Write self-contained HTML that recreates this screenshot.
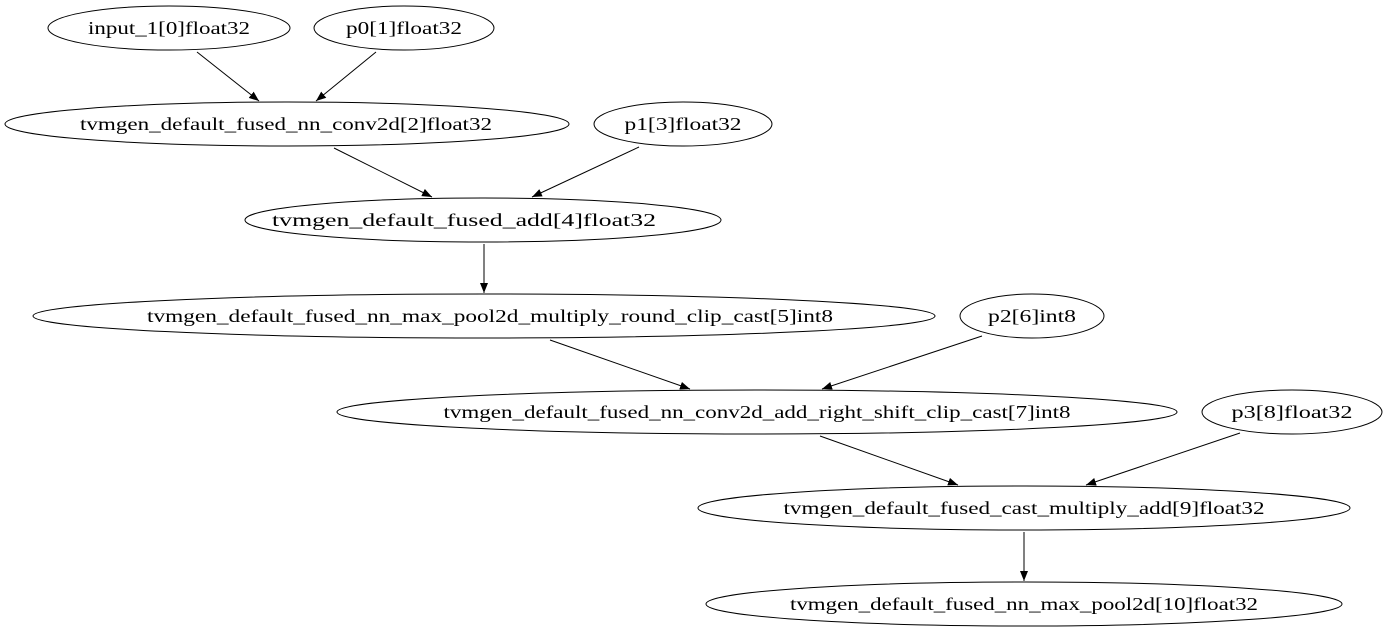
<!DOCTYPE html>
<html><head><meta charset="utf-8"><style>html,body{margin:0;padding:0;background:#fff}svg{display:block}</style></head>
<body>
<svg width="1388" height="635" viewBox="0 0 1388 635" xmlns="http://www.w3.org/2000/svg">
<defs><marker id="a" markerWidth="10" markerHeight="8" refX="10" refY="4" orient="auto" markerUnits="userSpaceOnUse"><path d="M0,0 L10,4 L0,8 z" fill="#000"/></marker></defs>
<g fill="none" stroke="#000" stroke-width="1">
<ellipse cx="169" cy="28" rx="121" ry="22"/>
<ellipse cx="404" cy="28" rx="90" ry="22"/>
<ellipse cx="287" cy="124" rx="282" ry="22"/>
<ellipse cx="683" cy="124" rx="89" ry="22"/>
<ellipse cx="483" cy="220" rx="238" ry="22"/>
<ellipse cx="484" cy="316" rx="451" ry="22"/>
<ellipse cx="1032" cy="316" rx="72" ry="22"/>
<ellipse cx="757" cy="412" rx="420" ry="22"/>
<ellipse cx="1292" cy="412" rx="90" ry="22"/>
<ellipse cx="1024" cy="508" rx="326" ry="22"/>
<ellipse cx="1024" cy="604" rx="318" ry="22"/>
<g marker-end="url(#a)">
<line x1="197" y1="52" x2="259" y2="101"/>
<line x1="376" y1="52" x2="316" y2="101"/>
<line x1="334" y1="148" x2="432" y2="197"/>
<line x1="639" y1="147" x2="532" y2="197"/>
<line x1="484" y1="244" x2="484" y2="293"/>
<line x1="550" y1="340" x2="690" y2="389"/>
<line x1="982" y1="336" x2="822" y2="389"/>
<line x1="820" y1="436" x2="958" y2="485"/>
<line x1="1240" y1="433" x2="1086" y2="485"/>
<line x1="1024" y1="532" x2="1024" y2="581"/>
</g></g>
<g font-family="'Liberation Serif',serif" font-size="18" text-anchor="middle" fill="#000">
<text x="169" y="34" textLength="162" lengthAdjust="spacingAndGlyphs">input_1[0]float32</text>
<text x="404" y="34" textLength="116" lengthAdjust="spacingAndGlyphs">p0[1]float32</text>
<text x="286" y="130" textLength="412" lengthAdjust="spacingAndGlyphs">tvmgen_default_fused_nn_conv2d[2]float32</text>
<text x="683" y="130" textLength="117" lengthAdjust="spacingAndGlyphs">p1[3]float32</text>
<text x="464" y="226" textLength="384" lengthAdjust="spacingAndGlyphs">tvmgen_default_fused_add[4]float32</text>
<text x="490" y="322" textLength="686" lengthAdjust="spacingAndGlyphs">tvmgen_default_fused_nn_max_pool2d_multiply_round_clip_cast[5]int8</text>
<text x="1032" y="322" textLength="88" lengthAdjust="spacingAndGlyphs">p2[6]int8</text>
<text x="757" y="418" textLength="627" lengthAdjust="spacingAndGlyphs">tvmgen_default_fused_nn_conv2d_add_right_shift_clip_cast[7]int8</text>
<text x="1292" y="418" textLength="121" lengthAdjust="spacingAndGlyphs">p3[8]float32</text>
<text x="1024" y="514" textLength="481" lengthAdjust="spacingAndGlyphs">tvmgen_default_fused_cast_multiply_add[9]float32</text>
<text x="1024" y="610" textLength="468" lengthAdjust="spacingAndGlyphs">tvmgen_default_fused_nn_max_pool2d[10]float32</text>
</g>
</svg>
</body></html>
